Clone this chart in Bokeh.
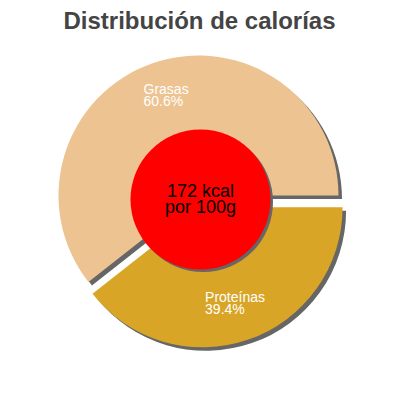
import numpy as np
from bokeh.plotting import figure
from bokeh.models import Range1d
from bokeh.core.properties import value
from bokeh.embed import file_html
from bokeh.resources import INLINE

# ---- data ----
title_text = "Distribución de calorías"
categories = ["Grasas", "Proteínas"]
percent = [60.6, 39.4]
colors = ["#EDC391", "#D9A526"]
center_lines = ["172 kcal", "por 100g"]

# ---- layout (screen px, y down -> data y up) ----
def Y(s):
    return 400 - s

cx, cy = 198, Y(195)
R = 140
explode = np.array([0.0, 12.5])
sh = 3.5
label_r = 104

frac = np.array(percent) / sum(percent)
ends = np.cumsum(frac) * 2 * np.pi
starts = ends - frac * 2 * np.pi
mids = (starts + ends) / 2
xs = cx + explode * np.cos(mids)
ys = cy + explode * np.sin(mids)

p = figure(width=384, height=384, x_range=Range1d(0, 384), y_range=Range1d(16, 400),
           output_backend="svg", toolbar_location=None, min_border=0,
           x_axis_type=None, y_axis_type=None)
p.grid.visible = False
p.outline_line_color = None
p.background_fill_color = "white"

# shadows
p.wedge(x=xs + sh, y=ys - sh, radius=R, start_angle=starts, end_angle=ends,
        fill_color="#666666", line_color=None)
# slices
p.wedge(x=xs, y=ys, radius=R, start_angle=starts, end_angle=ends,
        fill_color=colors, line_color=None)

# centre disc
ccx, ccy, cr = 200, Y(199), 70
p.circle(x=[ccx + 2.5], y=[ccy - 2.5], radius=cr, fill_color="#666666", line_color=None)
p.circle(x=[ccx], y=[ccy], radius=cr, fill_color="#FF0000", line_color=None)

p.text(x=[ccx, ccx], y=[Y(190), Y(206.5)], text=center_lines,
       text_font=value("Liberation Sans"), text_font_size="18px",
       text_color="black", text_align="center", text_baseline="alphabetic")

# slice labels
lx = xs + label_r * np.cos(mids)
ly = ys + label_r * np.sin(mids)
for i, name in enumerate(categories):
    left = lx[i] - len(name) * 3.5
    p.text(x=[left, left], y=[ly[i] + 8.5, ly[i] - 3.5],
           text=[name, f"{percent[i]:.1f}%"],
           text_font=value("Liberation Sans"), text_font_size="14px",
           text_color="white", text_align="left", text_baseline="middle")

# title
p.text(x=[199], y=[Y(20)], text=[title_text], text_font=value("Liberation Sans"),
       text_font_size="24px", text_font_style="bold", text_color="#444444",
       text_align="center", text_baseline="alphabetic")

open("out.html", "w").write(file_html(p, INLINE))
